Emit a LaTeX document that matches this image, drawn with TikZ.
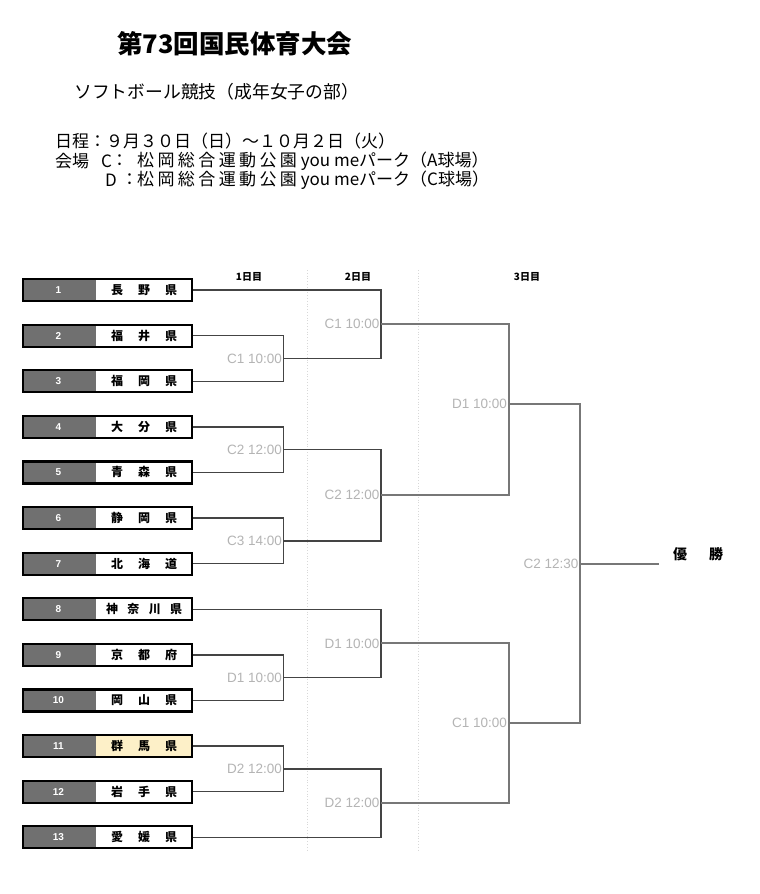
\documentclass[tikz,border=0pt]{standalone}
\usepackage{fontspec}
\setmainfont{Liberation Sans}
\newfontfamily\jp{Noto Sans CJK JP}
\definecolor{boxgray}{HTML}{707070}
\definecolor{paleyel}{HTML}{FDF0C8}
\definecolor{labgray}{HTML}{B4B4B4}
\definecolor{linedark}{HTML}{444444}
\definecolor{linegray}{HTML}{777777}
\definecolor{dotgray}{HTML}{D8D8D8}
\begin{document}
\begin{tikzpicture}[x=1pt,y=-1pt,
  team/.style={draw=black, line width=2.2pt, minimum width=169pt, minimum height=22pt, inner sep=0pt,
    path picture={\fill[boxgray] (path picture bounding box.south west) rectangle ([xshift=73pt]path picture bounding box.north west);}},
  numtxt/.style={text=white, font=\bfseries\fontsize{10}{10}\selectfont, inner sep=0pt},
  nametxt/.style={font=\jp\bfseries\fontsize{12}{12}\selectfont, inner sep=0pt},
  lab/.style={text=labgray, font=\fontsize{13.5}{14}\selectfont, inner sep=0pt, anchor=east},
  rA/.style={draw=linedark, line width=1.4pt},
  rB/.style={draw=linegray, line width=2pt},
  dotline/.style={draw=dotgray, line width=0.8pt, dotted},
  hdr/.style={font=\jp\fontsize{17}{17}\selectfont, inner sep=0pt, anchor=west},
  day/.style={font=\jp\bfseries\fontsize{10}{10}\selectfont, inner sep=0pt}
]
\useasboundingbox[fill=white] (0,0) rectangle (760,894);

% header texts
\node[hdr, font=\jp\bfseries\fontsize{25.5}{25.5}\selectfont] (title) at (117,43.5) {第73回国民体育大会};
\node[hdr, font=\jp\fontsize{17.8}{17.8}\selectfont] (sub) at (74,91.5) {ソフトボール競技（成年女子の部）};
\node[hdr] (sched) at (55,141) {日程：９月３０日（日）〜１０月２日（火）};
\node[hdr] (venue) at (55,161) {会場};
\node[hdr] (vc) at (101,161) {C};
\node[hdr] (vcc) at (111,161) {：};
\node[hdr] (vct) at (137,161) {{\addfontfeature{LetterSpace=20}松岡総合運動公園} you meパーク（A球場）};
\node[hdr] (vd) at (105,180) {D};
\node[hdr] (vdc) at (121,180) {：};
\node[hdr] (vdt) at (137,180) {{\addfontfeature{LetterSpace=20}松岡総合運動公園} you meパーク（C球場）};

% day headers
\node[day] (d1) at (249,277) {1日目};
\node[day] (d2) at (358,276.5) {2日目};
\node[day] (d3) at (527,277) {3日目};

% dotted day separators
\draw[dotline] (307,270) -- (307,850);
\draw[dotline] (418,270) -- (418,850);

% teams
\foreach \i/\w/\fc/\nm in {
  1/66/white/{長\hfill 野\hfill 県},
  2/66/white/{福\hfill 井\hfill 県},
  3/66/white/{福\hfill 岡\hfill 県},
  4/66/white/{大\hfill 分\hfill 県},
  5/66/white/{青\hfill 森\hfill 県},
  6/66/white/{静\hfill 岡\hfill 県},
  7/66/white/{北\hfill 海\hfill 道},
  8/76/white/{神\hfill 奈\hfill 川\hfill 県},
  9/66/white/{京\hfill 都\hfill 府},
  10/66/white/{岡\hfill 山\hfill 県},
  11/66/paleyel/{群\hfill 馬\hfill 県},
  12/66/white/{岩\hfill 手\hfill 県},
  13/66/white/{愛\hfill 媛\hfill 県}}{
  \node[team, fill=\fc] (t\i) at (107.5,{290+(\i-1)*45.6}) {};
  \node[numtxt] (n\i) at ([xshift=36.5pt]t\i.west) {\i};
  \node[nametxt] (m\i) at ([xshift=-49pt]t\i.east) {\makebox[\w pt]{\nm}};
}

% junctions
\coordinate (a1) at (283.5,358.4);
\coordinate (a2) at (283.5,449.6);
\coordinate (a3) at (283.5,540.8);
\coordinate (a4) at (283.5,677.6);
\coordinate (a5) at (283.5,768.8);
\coordinate (b1) at (381,324.2);
\coordinate (b2) at (381,495.2);
\coordinate (b3) at (381,643.4);
\coordinate (b4) at (381,803);
\coordinate (c1) at (508.5,404);
\coordinate (c2) at (508.5,723);
\coordinate (f) at (580,563.5);
\coordinate (win) at (659,563.5);

% round 1
\draw[rA] (t2.east) -| (a1) |- (t3.east);
\draw[rA] (t4.east) -| (a2) |- (t5.east);
\draw[rA] (t6.east) -| (a3) |- (t7.east);
\draw[rA] (t9.east) -| (a4) |- (t10.east);
\draw[rA] (t11.east) -| (a5) |- (t12.east);
% round 2
\draw[rA] (t1.east) -| (b1) |- (a1);
\draw[rA] (a2) -| (b2) |- (a3);
\draw[rA] (t8.east) -| (b3) |- (a4);
\draw[rA] (a5) -| (b4) |- (t13.east);
% round 3 and final
\draw[rB] (b1) -| (c1) |- (b2);
\draw[rB] (b3) -| (c2) |- (b4);
\draw[rB] (c1) -| (f) |- (c2);
\draw[rB] (f) -- (win);

% match labels
\node[lab] (la1) at ([xshift=-1.5pt]a1) {C1 10:00};
\node[lab] (la2) at ([xshift=-1.5pt]a2) {C2 12:00};
\node[lab] (la3) at ([xshift=-1.5pt]a3) {C3 14:00};
\node[lab] (la4) at ([xshift=-1.5pt]a4) {D1 10:00};
\node[lab] (la5) at ([xshift=-1.5pt]a5) {D2 12:00};
\node[lab] (lb1) at ([xshift=-1.5pt]b1) {C1 10:00};
\node[lab] (lb2) at ([xshift=-1.5pt]b2) {C2 12:00};
\node[lab] (lb3) at ([xshift=-1.5pt]b3) {D1 10:00};
\node[lab] (lb4) at ([xshift=-1.5pt]b4) {D2 12:00};
\node[lab] (lc1) at ([xshift=-1.5pt]c1) {D1 10:00};
\node[lab] (lc2) at ([xshift=-1.5pt]c2) {C1 10:00};
\node[lab] (lf) at ([xshift=-1.5pt]f) {C2 12:30};

% winner
\node[font=\jp\bfseries\fontsize{14}{14}\selectfont, inner sep=0pt] (winner) at (698,554) {優\hspace{22pt}勝};
\end{tikzpicture}
\end{document}
